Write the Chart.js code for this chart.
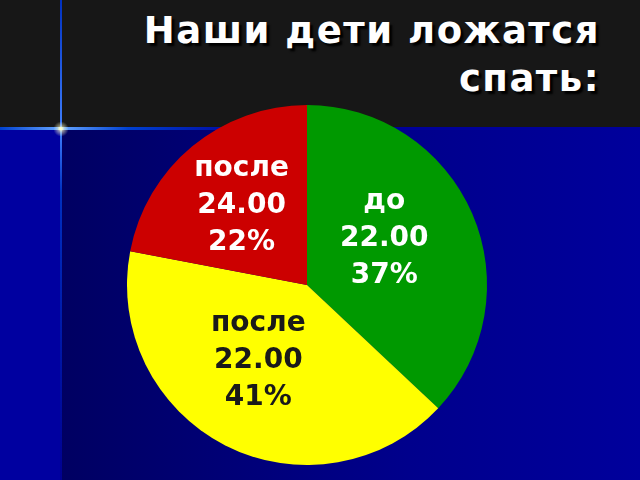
<!DOCTYPE html>
<html>
<head>
<meta charset="utf-8">
<script src="https://cdn.jsdelivr.net/npm/chart.js@4.4.0/dist/chart.umd.min.js"></script>
<style>
  html, body { margin: 0; padding: 0; }
  body {
    width: 640px; height: 480px; overflow: hidden; position: relative;
    background: #0000a0;
  }
  #band { position: absolute; left: 0; top: 0; width: 640px; height: 128px; background: #171717; }
  #navy { position: absolute; left: 61px; top: 128px; width: 579px; height: 352px;
    background: linear-gradient(to right, #000062, #00008c 60%, #00009c); }
  #vline { position: absolute; left: 60px; top: 0; width: 2px; height: 480px;
    background: linear-gradient(to bottom, #0030c0, #4080ff 27%, #0030c0 40%, #000090); }
  #hline { position: absolute; left: 0; top: 127px; width: 640px; height: 3px;
    background: linear-gradient(to right, #0040d0, #60a0ff 9%, #ffffc0 9.5%, #60a0ff 10%, #0040d0 20%, #00009a 40%); }
  #star { position: absolute; left: 52px; top: 120px; width: 18px; height: 18px;
    background: radial-gradient(circle, #ffffd0 0, rgba(255,255,200,0.5) 25%, rgba(255,255,200,0) 60%); }
  #title {
    position: absolute; right: 40px; top: 7px; text-align: right;
    font-family: "DejaVu Sans", sans-serif; font-weight: bold; font-size: 37px;
    line-height: 48px; color: #ffffff; letter-spacing: 1.5px;
    text-shadow: 3px 3px 2px #000000;
  }
  #wrap { position: absolute; left: 0; top: 0; width: 640px; height: 480px; }
</style>
</head>
<body>
<div id="band"></div>
<div id="navy"></div>
<div id="vline"></div>
<div id="hline"></div>
<div id="star"></div>
<div id="title">Наши дети ложатся<br>спать:</div>
<div id="wrap"><canvas id="pie"></canvas></div>
<script>
const categories = ['до 22.00', 'после 22.00', 'после 24.00'];
const labelLines = [['до', '22.00'], ['после', '22.00'], ['после', '24.00']];
const percents = [37, 41, 22];
const colors = ['#009900', '#ffff00', '#cc0000'];
const textColors = ['#ffffff', '#1a1a1a', '#ffffff'];

// draws the three-line labels inside each slice
const sliceLabels = {
  id: 'sliceLabels',
  afterDatasetsDraw(chart, args, opts) {
    const ctx = chart.ctx;
    const meta = chart.getDatasetMeta(0);
    ctx.save();
    ctx.font = 'bold 28px "DejaVu Sans", sans-serif';
    ctx.textAlign = 'center';
    ctx.textBaseline = 'middle';
    meta.data.forEach((arc, i) => {
      const mid = (arc.startAngle + arc.endAngle) / 2 + opts.angleShift[i];
      const r = arc.outerRadius * opts.radius[i];
      const x = arc.x + Math.cos(mid) * r;
      const y = arc.y + Math.sin(mid) * r;
      const lines = labelLines[i].concat([percents[i] + '%']);
      ctx.fillStyle = textColors[i];
      lines.forEach((t, k) => {
        ctx.fillText(t, x, y + (k - 1) * 37);
      });
    });
    ctx.restore();
  }
};

new Chart(document.getElementById('pie'), {
  type: 'pie',
  data: {
    labels: categories,
    datasets: [{
      data: percents,
      backgroundColor: colors,
      borderWidth: 0
    }]
  },
  options: {
    responsive: true,
    maintainAspectRatio: false,
    animation: false,
    layout: { padding: { left: 127, right: 153, top: 105, bottom: 15 } },
    plugins: {
      legend: { display: false },
      tooltip: { enabled: false },
      sliceLabels: { radius: [0.5, 0.5, 0.57], angleShift: [-0.13, 0.1, 0] }
    }
  },
  plugins: [sliceLabels]
});
</script>
</body>
</html>
